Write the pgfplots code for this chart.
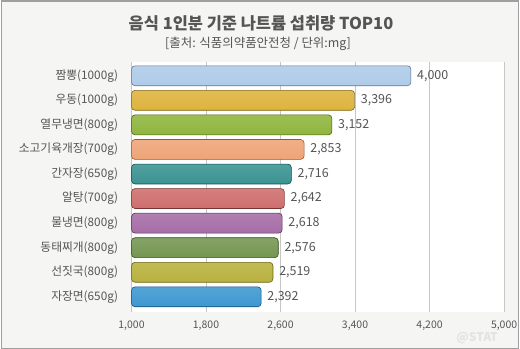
\documentclass[border=0pt]{standalone}
\usepackage{pgfplots}
\pgfplotsset{compat=1.18}
\usepackage{fontspec}
\setmainfont{Noto Sans CJK KR}
\definecolor{bgc}{HTML}{F5F5F3}
\definecolor{txt}{HTML}{555555}
\definecolor{ca}{HTML}{A0C2E4}
\definecolor{cb}{HTML}{D8A61C}
\definecolor{cc}{HTML}{7CA81C}
\definecolor{cd}{HTML}{EC9460}
\definecolor{ce}{HTML}{188080}
\definecolor{cf}{HTML}{C65454}
\definecolor{cg}{HTML}{965496}
\definecolor{ch}{HTML}{5C8434}
\definecolor{ci}{HTML}{ACA41C}
\definecolor{cj}{HTML}{1C86C8}
\pgfplotsset{
  barstyle/.style={shade, top color=#1!75!white, middle color=#1!90!black, bottom color=#1!85!white, draw=#1!60!black, line width=0.6pt, rounded corners=3.5pt}
}
\begin{document}
\begin{tikzpicture}[x=1pt,y=1pt]
\fill[bgc] (0,0) rectangle (520,350);
\draw[gray!75, line width=1pt] (0.5,0.5) rectangle (519.5,349.5);
\draw[gray!75, line width=2pt] (0,349) -- (520,349);
\node[font=\fontsize{16.5}{18}\selectfont\bfseries, text=txt] at (261,327) {음식 1인분 기준 나트륨 섭취량 TOP10};
\node[font=\fontsize{12.5}{14}\selectfont, text=txt] at (258,306) {[출처: 식품의약품안전청 / 단위:mg]};
\begin{axis}[
  at={(131pt,37pt)}, anchor=south west,
  width=374pt, height=251pt, scale only axis,
  xmin=1000, xmax=5000, ymin=-0.57, ymax=9.61, y dir=reverse,
  axis background/.style={fill=white},
  axis line style={draw=none}, tick style={draw=none},
  xmajorgrids, grid style={gray!45, line width=0.8pt},
  xtick={1000,1800,2600,3400,4200,5000},
  /pgf/number format/1000 sep={,},
  /pgf/number format/assume math mode=true,
  ytick={0,...,9},
  yticklabels={짬뽕(1000g),우동(1000g),열무냉면(800g),소고기육개장(700g),간자장(650g),알탕(700g),물냉면(800g),동태찌개(800g),선짓국(800g),자장면(650g)},
  yticklabel style={font=\fontsize{11.8}{13}\selectfont, text=txt, inner sep=0pt, xshift=-9pt},
  xticklabel style={font=\fontsize{10.5}{12}\selectfont, text=txt, inner sep=0pt, yshift=-9pt},
  xbar, bar width=0.81, bar shift=0pt,
  nodes near coords={\pgfmathprintnumber[fixed,1000 sep={,}]{\pgfplotspointmeta}},
  nodes near coords style={font=\fontsize{12.5}{14}\selectfont, text=txt, anchor=west, inner sep=0pt, xshift=6pt},
]
\addplot[barstyle=ca] coordinates {(4000,0)};
\addplot[barstyle=cb] coordinates {(3396,1)};
\addplot[barstyle=cc] coordinates {(3152,2)};
\addplot[barstyle=cd] coordinates {(2853,3)};
\addplot[barstyle=ce] coordinates {(2716,4)};
\addplot[barstyle=cf] coordinates {(2642,5)};
\addplot[barstyle=cg] coordinates {(2618,6)};
\addplot[barstyle=ch] coordinates {(2576,7)};
\addplot[barstyle=ci] coordinates {(2519,8)};
\addplot[barstyle=cj] coordinates {(2392,9)};
\end{axis}
\node[font=\fontsize{12}{13}\selectfont\bfseries, text=gray!22, inner sep=0pt] at (478,11) {@STAT};
\end{tikzpicture}
\end{document}
